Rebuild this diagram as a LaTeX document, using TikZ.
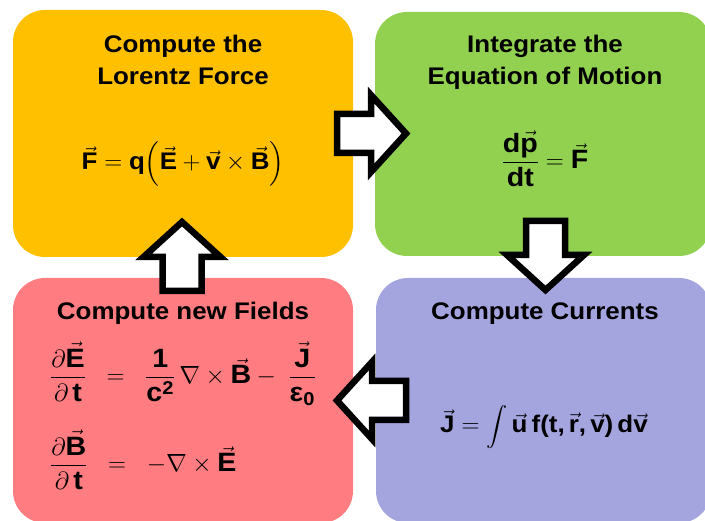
\documentclass[tikz,border=0pt]{standalone}
\usepackage{amsmath}
\usepackage{graphicx}
\usepackage{fontspec}
\setmainfont[FakeStretch=1.08]{Liberation Sans}
\definecolor{orangec}{HTML}{FFC000}
\definecolor{greenc}{HTML}{92D050}
\definecolor{redc}{HTML}{FF7C80}
\definecolor{purplec}{HTML}{A4A4DF}
\newcommand{\bt}[1]{\text{\bfseries #1}}
\newcommand{\bv}[1]{\vec{\text{\bfseries #1}}}
\newcommand{\myint}{\mathop{\vcenter{\hbox{\scalebox{0.85}[0.78]{$\displaystyle\int$}}}}\nolimits}
\tikzset{
  box/.style={rounded corners=32pt, inner sep=0pt, draw=none},
  txt/.style={font=\bfseries\fontsize{24}{30}\selectfont, inner sep=0pt, anchor=base},
  bigtxt/.style={font=\bfseries\fontsize{26.5}{30}\selectfont, inner sep=0pt, anchor=base},
  barrow/.style={draw=black, fill=white, line width=6.5pt, miter limit=10},
  pics/blockarrow/.style={code={
    \draw[barrow] (0,-19.5) -- (34,-19.5) -- (34,-38.5) -- (69,0) -- (34,38.5) -- (34,19.5) -- (0,19.5) -- cycle;
  }}
}
\begin{document}
\begin{tikzpicture}[x=1pt,y=-1pt]
\useasboundingbox (0,0) rectangle (705,521);
\clip (0,0) rectangle (705,521);
% boxes
\node[box, fill=orangec, minimum width=340, minimum height=247] (force) at (183,133.5) {};
\node[box, fill=greenc, minimum width=336, minimum height=244] (motion) at (543,134) {};
\node[box, fill=redc, minimum width=340, minimum height=245] (fields) at (183,400.5) {};
\node[box, fill=purplec, minimum width=335, minimum height=245] (currents) at (543.5,400.5) {};
% texts
\node[txt] (f1) at (183,53) {Compute the};
\node[txt] (f2) at (183,85) {Lorentz Force};
\node[txt] (feq) at (183,170) {$\bv{F}=\bt{q}\Bigl(\bv{E}+\bv{v}\times\bv{B}\Bigr)$};
\node[txt] (m1) at (545,53) {Integrate the};
\node[txt] (m2) at (545,85) {Equation of Motion};
\node[bigtxt] (meq) at (545,169) {$\dfrac{\bt{d}\bv{p}}{\bt{dt}}=\bv{F}$};
\node[txt] (e1) at (183,320) {Compute new Fields};
\node[bigtxt, anchor=base west] (eeq1) at (50,384) {$\dfrac{\partial\bv{E}}{\partial\,\bt{t}}\;\;=\;\;\dfrac{\bt{1}}{\bt{c}^{\bt{2}}}\,\nabla\times\bv{B}-\;\dfrac{\bv{J}}{\bt{ε}_{\bt{0}}}$};
\node[bigtxt, anchor=base west] (eeq2) at (50,472) {$\dfrac{\partial\bv{B}}{\partial\,\bt{t}}\;\;=\;\;-\nabla\times\bv{E}$};
\node[txt] (c1) at (545,320) {Compute Currents};
\node[txt] (ceq) at (544,433) {$\bv{J}=\myint\bv{u}\,\bt{f}\bt{(}\bt{t}\bt{,}\,\bv{r}\bt{,}\,\bv{v}\bt{)}\,\bt{d}\bv{v}$};
% block arrows
\coordinate (a1) at (337,133.5);
\coordinate (a2) at (545.5,221);
\coordinate (a3) at (406,400.5);
\coordinate (a4) at (182,291);
\pic at (a1) {blockarrow};
\pic[rotate=-90] at (a2) {blockarrow};
\pic[rotate=180] at (a3) {blockarrow};
\pic[rotate=90] at (a4) {blockarrow};
\end{tikzpicture}
\end{document}
